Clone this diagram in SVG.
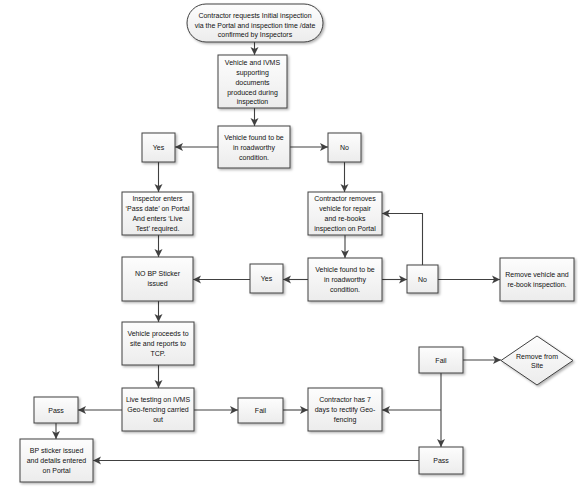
<svg xmlns="http://www.w3.org/2000/svg" width="578" height="490" viewBox="0 0 578 490">
<defs>
<linearGradient id="g" x1="0" y1="0" x2="0" y2="1">
<stop offset="0" stop-color="#fdfdfd"/>
<stop offset="1" stop-color="#ececec"/>
</linearGradient>
<filter id="sh" x="-10%" y="-10%" width="130%" height="130%">
<feDropShadow dx="1.5" dy="1.5" stdDeviation="1" flood-color="#000" flood-opacity="0.3"/>
</filter>
<marker id="ah" markerUnits="userSpaceOnUse" markerWidth="9" markerHeight="9" refX="8" refY="4.5" orient="auto">
<path d="M0,0.5 L8,4.5 L0,8.5 L2,4.5 z" fill="#404040"/>
</marker>
</defs>
<style>
.b{fill:url(#g);stroke:#404040;stroke-width:1;filter:url(#sh)}
.t{font-family:"Liberation Sans",Arial,sans-serif;font-size:7px;fill:#111;text-anchor:middle}
.c{fill:none;stroke:#404040;stroke-width:1.1}
</style>
<rect width="578" height="490" fill="#fff"/>

<g id="connectors">
<path class="c" d="M254.5,42 V55" marker-end="url(#ah)"/>
<path class="c" d="M254.5,108 V126" marker-end="url(#ah)"/>
<path class="c" d="M218,147 H175" marker-end="url(#ah)"/>
<path class="c" d="M290,147 H328" marker-end="url(#ah)"/>
<path class="c" d="M158.5,162 V192" marker-end="url(#ah)"/>
<path class="c" d="M344.5,162 V192" marker-end="url(#ah)"/>
<path class="c" d="M158.5,235 V257" marker-end="url(#ah)"/>
<path class="c" d="M345,235 V258" marker-end="url(#ah)"/>
<path class="c" d="M308,279.5 H283" marker-end="url(#ah)"/>
<path class="c" d="M250,279.5 H193" marker-end="url(#ah)"/>
<path class="c" d="M382,279.5 H407" marker-end="url(#ah)"/>
<path class="c" d="M438,279.5 H500" marker-end="url(#ah)"/>
<path class="c" d="M422.5,265 V213.5 H382" marker-end="url(#ah)"/>
<path class="c" d="M158.5,301 V322" marker-end="url(#ah)"/>
<path class="c" d="M158.5,365 V388" marker-end="url(#ah)"/>
<path class="c" d="M122,410 H78" marker-end="url(#ah)"/>
<path class="c" d="M194,410 H238" marker-end="url(#ah)"/>
<path class="c" d="M283,410 H308" marker-end="url(#ah)"/>
<path class="c" d="M56,423 V439" marker-end="url(#ah)"/>
<path class="c" d="M463,360 H501" marker-end="url(#ah)"/>
<path class="c" d="M441,373 V447" marker-end="url(#ah)"/>
<path class="c" d="M441,410 H382" marker-end="url(#ah)"/>
<path class="c" d="M419,460.5 H93" marker-end="url(#ah)"/>
</g>

<g id="start">
<rect class="b" x="187" y="4" width="136" height="38" rx="19"/>
<text class="t" x="255" y="17.5">Contractor requests Initial inspection</text>
<text class="t" x="255" y="27.5">via the Portal and inspection time /date</text>
<text class="t" x="255" y="37">confirmed by Inspectors</text>
</g>
<g id="docs">
<rect class="b" x="218" y="55" width="69" height="53"/>
<text class="t" x="252.5" y="64.5">Vehicle and IVMS</text>
<text class="t" x="252.5" y="74.5">supporting</text>
<text class="t" x="252.5" y="84.5">documents</text>
<text class="t" x="252.5" y="94.5">produced during</text>
<text class="t" x="252.5" y="104">inspection</text>
</g>
<g id="check1">
<rect class="b" x="218" y="126" width="72" height="42"/>
<text class="t" x="254" y="139.5">Vehicle found to be</text>
<text class="t" x="254" y="149.5">in roadworthy</text>
<text class="t" x="254" y="159.5">condition.</text>
</g>
<g id="yes1">
<rect class="b" x="142" y="133" width="33" height="29"/>
<text class="t" x="158.5" y="150">Yes</text>
</g>
<g id="no1">
<rect class="b" x="328" y="133" width="33" height="29"/>
<text class="t" x="344.5" y="150">No</text>
</g>
<g id="inspector">
<rect class="b" x="122" y="192" width="71" height="43"/>
<text class="t" x="157.5" y="200.5">Inspector enters</text>
<text class="t" x="157.5" y="210.5">‘Pass date’ on Portal</text>
<text class="t" x="157.5" y="220.5">And enters ‘Live</text>
<text class="t" x="157.5" y="230.5">Test’ required.</text>
</g>
<g id="contractor-removes">
<rect class="b" x="308" y="192" width="74" height="43"/>
<text class="t" x="345" y="200.5">Contractor removes</text>
<text class="t" x="345" y="210.5">vehicle for repair</text>
<text class="t" x="345" y="220.5">and re-books</text>
<text class="t" x="345" y="230.5">inspection on Portal</text>
</g>
<g id="no-bp">
<rect class="b" x="122" y="257" width="71" height="44"/>
<text class="t" x="157.5" y="276">NO BP Sticker</text>
<text class="t" x="157.5" y="286">issued</text>
</g>
<g id="yes2">
<rect class="b" x="250" y="264" width="33" height="29"/>
<text class="t" x="266.5" y="281">Yes</text>
</g>
<g id="check2">
<rect class="b" x="308" y="258" width="74" height="43"/>
<text class="t" x="345" y="272">Vehicle found to be</text>
<text class="t" x="345" y="282">in roadworthy</text>
<text class="t" x="345" y="292">condition.</text>
</g>
<g id="no2">
<rect class="b" x="407" y="265" width="31" height="28"/>
<text class="t" x="422.5" y="281.5">No</text>
</g>
<g id="remove-vehicle">
<rect class="b" x="500" y="258" width="74" height="43"/>
<text class="t" x="537" y="277">Remove vehicle and</text>
<text class="t" x="537" y="287">re-book inspection.</text>
</g>
<g id="proceeds">
<rect class="b" x="122" y="322" width="72" height="43"/>
<text class="t" x="158" y="336">Vehicle proceeds to</text>
<text class="t" x="158" y="346">site and reports to</text>
<text class="t" x="158" y="356">TCP.</text>
</g>
<g id="live-testing">
<rect class="b" x="122" y="388" width="72" height="43"/>
<text class="t" x="158" y="402">Live testing on IVMS</text>
<text class="t" x="158" y="412">Geo-fencing carried</text>
<text class="t" x="158" y="422">out</text>
</g>
<g id="pass-left">
<rect class="b" x="34" y="397" width="44" height="26"/>
<text class="t" x="56" y="412.5">Pass</text>
</g>
<g id="fail-mid">
<rect class="b" x="238" y="398" width="45" height="25"/>
<text class="t" x="260.5" y="413">Fail</text>
</g>
<g id="seven-days">
<rect class="b" x="308" y="388" width="74" height="43"/>
<text class="t" x="345" y="402">Contractor has 7</text>
<text class="t" x="345" y="412">days to rectify Geo-</text>
<text class="t" x="345" y="422">fencing</text>
</g>
<g id="fail-right">
<rect class="b" x="419" y="347" width="44" height="26"/>
<text class="t" x="441" y="362.5">Fail</text>
</g>
<g id="remove-site">
<polygon class="b" points="501,360.5 537,336 573,360.5 537,385"/>
<text class="t" x="537" y="358.5">Remove from</text>
<text class="t" x="537" y="367.5">Site</text>
</g>
<g id="pass-right">
<rect class="b" x="419" y="447" width="44" height="27"/>
<text class="t" x="441" y="463">Pass</text>
</g>
<g id="bp-issued">
<rect class="b" x="20" y="439" width="73" height="43"/>
<text class="t" x="56.5" y="453">BP sticker issued</text>
<text class="t" x="56.5" y="463">and details entered</text>
<text class="t" x="56.5" y="473">on Portal</text>
</g>
</svg>
